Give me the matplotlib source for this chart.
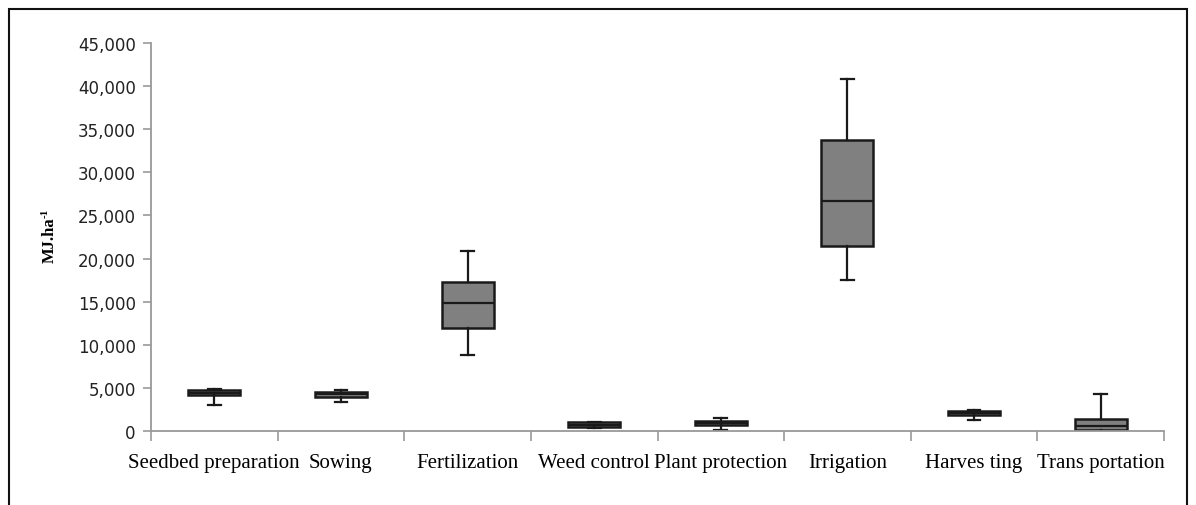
import matplotlib
matplotlib.use("Agg")
import matplotlib.pyplot as plt
from matplotlib.patches import Rectangle
from matplotlib.ticker import FuncFormatter

categories = ["Seedbed preparation", "Sowing", "Fertilization", "Weed control",
              "Plant protection", "Irrigation", "Harves ting", "Trans portation"]
whisker_low = [3050, 3400, 8800, 380, 150, 17480, 1260, 0]
q1 = [4120, 3890, 11910, 500, 690, 21490, 1830, 80]
median = [4430, 4240, 14810, 750, 920, 26680, 2060, 570]
q3 = [4810, 4580, 17250, 990, 1150, 33790, 2290, 1340]
whisker_high = [4900, 4700, 20910, 1050, 1490, 40860, 2480, 4310]
y_ticks = [0, 5000, 10000, 15000, 20000, 25000, 30000, 35000, 40000, 45000]

fig = plt.figure(figsize=(11.96, 5.06), dpi=100)
ax = fig.add_axes([151/1196, 1-432/506, (1164-151)/1196, (432-44)/506])

stats = []
for i, c in enumerate(categories):
    stats.append(dict(label=c, whislo=whisker_low[i], q1=q1[i], med=median[i],
                      q3=q3[i], whishi=whisker_high[i], fliers=[]))
positions = [i + 0.5 for i in range(len(categories))]
lc = "#1a1a1a"
ax.bxp(stats, positions=positions, widths=0.41, patch_artist=True, showfliers=False,
       boxprops=dict(facecolor="#808080", edgecolor=lc, linewidth=1.8),
       medianprops=dict(color=lc, linewidth=1.6),
       whiskerprops=dict(color=lc, linewidth=1.6),
       capprops=dict(color=lc, linewidth=1.6), capwidths=0.1)

ax.set_xlim(0, len(categories))
ax.set_ylim(0, 45000)
ax.set_yticks(y_ticks)
ax.yaxis.set_major_formatter(FuncFormatter(lambda v, p: f"{int(v):,}"))
ax.set_xticks(range(len(categories) + 1))
ax.set_xticklabels([])
ax.set_xticks(positions, minor=True)
ax.set_xticklabels(categories, minor=True, fontfamily="Liberation Serif", fontsize=15)
ax.tick_params(axis="x", which="minor", length=0, pad=16)
ax.tick_params(axis="x", which="major", length=7, color="#999999", width=1.2, direction="out")
ax.tick_params(axis="y", length=6, color="#999999", width=1.2, direction="out",
               labelsize=12, pad=5)
for lab in ax.get_yticklabels():
    lab.set_fontfamily("DejaVu Sans")
    lab.set_color("#222222")
for s in ["top", "right"]:
    ax.spines[s].set_visible(False)
for s in ["left", "bottom"]:
    ax.spines[s].set_color("#999999")
    ax.spines[s].set_linewidth(1.3)

fig.text(50/1196, 1-240/506, "MJ.ha", rotation=90, ha="center", va="center",
         fontfamily="Liberation Serif", fontweight="bold", fontsize=12)
fig.text(45/1196, 1-213/506, "-1", rotation=90, ha="center", va="center",
         fontfamily="Liberation Serif", fontweight="bold", fontsize=8)

fig.patches.append(Rectangle((9/1196, -0.1), (1187-9)/1196, 1.1 - 10/506,
                             transform=fig.transFigure, fill=False,
                             edgecolor="#111111", linewidth=1.5))

fig.savefig("out.png", dpi=100)
